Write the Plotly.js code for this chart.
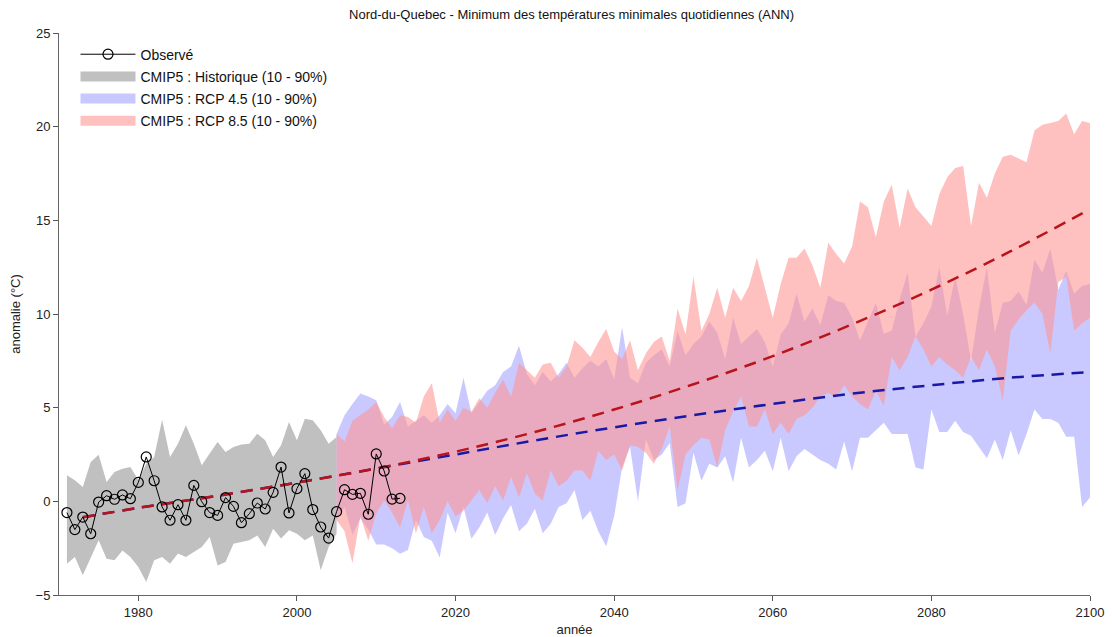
<!DOCTYPE html>
<html>
<head>
<meta charset="utf-8">
<script src="https://cdn.plot.ly/plotly-3.0.1.min.js"></script>
<style>html,body{margin:0;padding:0;background:#fff;}#chart{width:1112px;height:637px;}</style>
</head>
<body>
<div id="chart"></div>
<script>
// ---------- DATA ----------
var obsStart = 1971;
var observed = [-0.60,-1.51,-0.84,-1.73,-0.04,0.30,0.11,0.34,0.14,1.01,2.37,1.10,-0.30,-1.01,-0.18,-1.01,0.85,-0.02,-0.60,-0.75,0.20,-0.27,-1.14,-0.66,-0.09,-0.41,0.48,1.83,-0.62,0.68,1.48,-0.44,-1.37,-1.96,-0.55,0.62,0.37,0.43,-0.69,2.53,1.62,0.12,0.16];

var histStart = 1971;
var histUpper = [1.39,1.12,0.77,2.10,2.49,1.03,1.57,1.74,1.83,1.12,2.01,2.37,4.36,2.37,3.08,4.06,3.08,1.92,2.55,3.17,2.63,2.90,3.04,3.08,3.61,3.26,2.37,2.99,4.24,3.26,4.41,4.33,3.79,3.08,3.43];
var histLower = [-3.33,-2.97,-3.95,-2.97,-2.08,-3.06,-3.15,-2.62,-2.97,-3.51,-4.31,-3.15,-2.97,-3.33,-2.79,-2.97,-2.71,-2.44,-1.90,-3.42,-3.24,-2.26,-2.17,-2.08,-1.82,-2.44,-1.46,-1.99,-1.55,-1.73,-2.08,-1.82,-3.68,-2.44,-1.73];

var rcpStart = 2005;
var rcp45Upper = [3.6,4.6,5.2,5.75,5.6,5.4,4.1,4.5,5.3,4.0,
  4.3,4.6,4.2,4.6,5.2,4.7,6.6,4.7,5.3,5.9,
  6.2,6.9,7.2,8.3,6.8,6.2,6.9,6.4,6.8,7.4,
  6.6,7.1,7.5,7.2,7.6,6.5,9.3,6.6,6.3,7.4,
  7.8,8.1,7.2,9.1,7.8,8.4,8.8,9.6,9.0,7.6,
  9.8,8.4,8.8,9.2,8.5,7.2,8.9,9.5,11.1,9.6,
  10.3,9.4,11.0,10.7,10.6,9.8,8.6,9.6,10.6,8.95,
  9.1,10.8,12.2,8.8,9.5,10.4,12.5,9.9,12.0,10.0,
  7.5,10.3,12.5,9.0,10.6,10.7,11.2,10.5,12.9,12.2,
  13.5,11.3,12.3,11.1,11.5,11.6];
var rcp45Lower = [-1.0,-0.3,-1.8,-0.9,-1.5,-2.3,-2.3,-2.5,-2.8,-2.6,
  -1.0,-1.9,-2.1,-3.0,-0.6,-1.7,-0.3,-2.0,-1.4,-0.6,
  -1.8,-0.9,-0.2,-1.6,-1.2,-0.4,-1.7,-1.2,-0.3,-0.1,
  0.6,-1.0,-0.5,-1.6,-2.4,-0.8,1.8,2.9,0.0,3.3,
  2.2,2.5,3.1,-0.3,-0.1,2.6,1.1,2.0,1.8,2.4,
  1.0,3.4,1.8,2.2,2.7,1.6,3.4,1.6,2.4,2.8,
  2.5,2.2,2.0,1.7,3.2,1.6,3.4,3.4,3.8,4.2,
  3.6,3.6,3.6,1.8,1.7,4.9,3.7,3.7,4.3,3.7,
  3.5,2.9,2.3,3.3,2.2,3.8,2.45,3.6,4.9,4.4,
  4.4,4.2,3.45,3.45,-0.3,0.2];
var rcp85Upper = [3.6,3.2,4.3,4.6,4.9,5.3,4.5,3.9,4.6,4.5,
  4.2,5.6,6.3,4.2,4.9,4.3,5.0,4.8,5.5,5.0,
  5.8,6.5,5.6,7.4,7.0,6.6,7.3,7.4,6.6,7.2,
  8.6,8.2,7.7,8.5,9.2,8.0,7.6,8.6,7.0,7.9,
  8.5,8.8,7.5,10.3,8.9,12.0,9.1,10.0,11.4,9.8,
  11.4,10.7,11.5,13.0,11.4,9.8,11.6,13.0,13.0,13.5,
  12.6,11.4,13.8,13.2,12.7,13.6,16.0,15.7,14.1,16.0,
  16.9,14.6,16.7,15.7,15.2,14.7,16.4,17.3,17.8,17.9,
  14.7,17.0,16.2,17.5,18.4,18.5,18.3,18.1,19.8,20.1,
  20.2,20.3,20.7,19.6,20.3,20.2];
var rcp85Lower = [-1.0,-1.6,-3.3,-0.8,-2.1,-0.65,0.05,-0.6,-1.4,0.05,
  -1.7,-0.3,-1.7,-1.0,0.0,-0.8,-0.5,0.05,0.6,-0.1,
  0.8,0.05,1.3,0.2,1.5,0.4,0.05,1.65,0.8,1.1,
  1.65,1.65,1.1,2.7,2.2,2.5,1.65,3.0,2.9,2.6,
  2.0,2.8,4.0,0.6,2.5,3.0,3.4,3.3,1.8,3.8,
  4.8,5.6,4.0,4.0,4.9,3.6,4.2,3.6,4.4,4.6,
  5.0,5.6,5.8,5.5,6.2,5.6,5.2,4.9,5.9,5.1,
  7.7,7.0,7.7,8.8,8.1,7.2,7.7,7.3,7.0,6.6,
  7.7,7.0,8.1,7.2,5.4,9.1,9.7,10.2,10.6,10.0,
  7.9,11.7,12.0,9.1,9.5,9.8];

var trendYears = [1973,1980,1990,2000,2010,2020,2030,2040,2050,2060,2070,2080,2090,2100];
var trend45 = [-0.85,-0.35,0.3,1.0,1.75,2.5,3.25,3.95,4.6,5.2,5.75,6.2,6.6,6.9];
var trend85 = [-0.85,-0.35,0.3,1.0,1.75,2.65,3.7,4.9,6.25,7.75,9.45,11.3,13.35,15.6];

var xTicks = [1980,2000,2020,2040,2060,2080,2100];
var yTicks = [-5,0,5,10,15,20,25];

var labels = {
  title: "Nord-du-Quebec - Minimum des températures minimales quotidiennes (ANN)",
  x: "année", y: "anomalie (°C)",
  obs: "Observé",
  hist: "CMIP5 : Historique (10 - 90%)",
  r45: "CMIP5 : RCP 4.5 (10 - 90%)",
  r85: "CMIP5 : RCP 8.5 (10 - 90%)"
};

// ---------- HELPERS ----------
function yearsFrom(start, n){ var a=[]; for(var i=0;i<n;i++) a.push(start+i); return a; }
function band(start, up, lo){
  var yrs = yearsFrom(start, up.length);
  return { x: yrs.concat(yrs.slice().reverse()), y: up.concat(lo.slice().reverse()) };
}

var hb = band(histStart, histUpper, histLower);
var b45 = band(rcpStart, rcp45Upper, rcp45Lower);
var b85 = band(rcpStart, rcp85Upper, rcp85Lower);

var font = "Liberation Sans, Arial, sans-serif";
var cHist = 'rgb(192,192,192)';
var c45 = 'rgba(120,120,255,0.4)';
var c85 = 'rgba(255,150,150,0.6)';
var c45leg = 'rgb(200,200,255)';
var c85leg = 'rgb(255,192,192)';

function legendSwatch(name, color, rank){
  return { x:[null], y:[null], type:'scatter', mode:'lines', name:name, legendrank:rank, legendgroup:'g'+rank,
    line:{color:color, width:17}, hoverinfo:'skip' };
}

var traces = [
  { x: hb.x, y: hb.y, type:'scatter', mode:'lines', fill:'toself', fillcolor:cHist,
    line:{width:0, color:'rgba(0,0,0,0)'}, showlegend:false, hoverinfo:'skip' },
  { x: b45.x, y: b45.y, type:'scatter', mode:'lines', fill:'toself', fillcolor:c45,
    line:{width:0, color:'rgba(0,0,0,0)'}, showlegend:false, hoverinfo:'skip' },
  { x: b85.x, y: b85.y, type:'scatter', mode:'lines', fill:'toself', fillcolor:c85,
    line:{width:0, color:'rgba(0,0,0,0)'}, showlegend:false, hoverinfo:'skip' },
  { x: trendYears, y: trend45, type:'scatter', mode:'lines', line:{color:'rgb(25,25,165)', width:2.5, dash:'12px,8px', shape:'spline'}, showlegend:false },
  { x: trendYears, y: trend85, type:'scatter', mode:'lines', line:{color:'rgb(185,20,25)', width:2.5, dash:'12px,8px', shape:'spline'}, showlegend:false },
  { x: yearsFrom(obsStart, observed.length), y: observed, type:'scatter', mode:'lines+markers', name: labels.obs, legendrank:1, legendgroup:'g1',
    line:{color:'#000', width:1}, marker:{symbol:'circle-open', size:10, color:'#000', line:{width:1.2, color:'#000'}} },
  legendSwatch(labels.hist, cHist, 2),
  legendSwatch(labels.r45, c45leg, 3),
  legendSwatch(labels.r85, c85leg, 4)
];

var layout = {
  width:1112, height:637,
  margin:{l:59, r:22, t:33, b:42},
  paper_bgcolor:'#fff', plot_bgcolor:'#fff',
  font:{family:font, size:13, color:'#222'},
  title:{text: labels.title, x:0.514, xanchor:'center', y:0.978, yanchor:'middle', font:{family:font, size:13, color:'#111'}},
  showlegend:true,
  legend:{x:0.016, y:0.99, xanchor:'left', yanchor:'top', bgcolor:'rgba(0,0,0,0)', font:{family:font, size:14, color:'#111'}, itemwidth:55, tracegroupgap:1},
  xaxis:{range:[1970,2100], tickvals:xTicks, ticks:'outside', ticklen:5, tickcolor:'#555', showline:true, linecolor:'#666', linewidth:1,
    showgrid:false, zeroline:false, tickfont:{family:font, size:13, color:'#222'},
    title:{text: labels.x, font:{family:font, size:13, color:'#222'}, standoff:8}},
  yaxis:{range:[-5,25], tickvals:yTicks, ticks:'outside', ticklen:5, tickcolor:'#555', showline:true, linecolor:'#666', linewidth:1,
    showgrid:false, zeroline:false, tickfont:{family:font, size:13, color:'#222'},
    title:{text: labels.y, font:{family:font, size:13, color:'#222'}, standoff:12}}
};

Plotly.newPlot('chart', traces, layout, {displayModeBar:false, staticPlot:true});
</script>
</body>
</html>
